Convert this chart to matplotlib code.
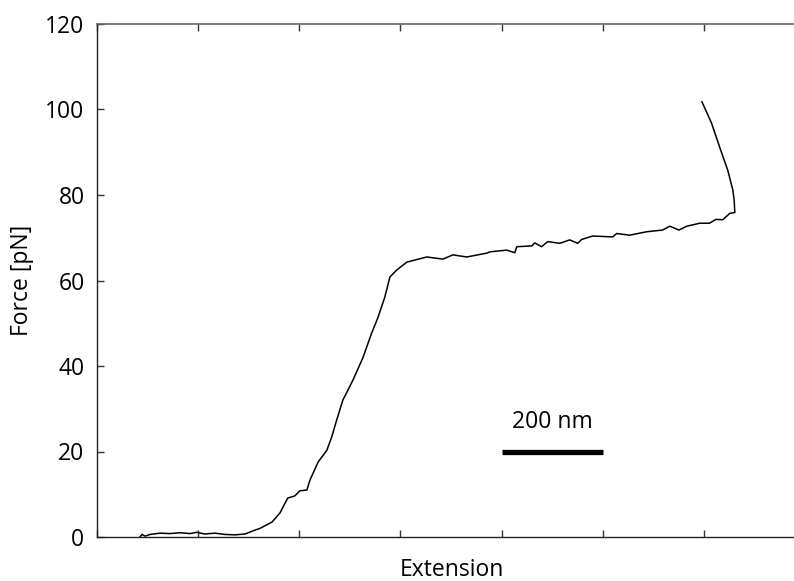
import matplotlib
matplotlib.use("Agg")
import matplotlib.pyplot as plt

plt.rcParams['font.family'] = ['Open Sans', 'DejaVu Sans']

# Extension (nm) and force (pN)
extension = [85, 89, 95, 105, 124.5, 144, 164, 184, 197.6, 213, 233, 253, 272.7, 292.5, 312,
             322, 346, 361.6, 377, 391, 401, 415, 421, 437, 454.5, 464, 474, 486, 506, 525.6,
             543, 555, 569, 579, 593, 612.6, 652, 684, 703.5, 731, 770.6,
             776.6, 810, 826, 830, 859.6, 865.5, 879, 891, 915, 934.6, 950.5, 958, 980,
             1019.6, 1027.5, 1053, 1086.6, 1118, 1132.6, 1150.5, 1166, 1191.6, 1211,
             1223.6, 1237, 1251, 1261,
             1259.7, 1257, 1247, 1231, 1215, 1196]
force = [0.0, 0.6, 0.2, 0.6, 0.9, 0.8, 1.0, 0.8, 1.1, 0.7, 0.9, 0.6, 0.5, 0.7, 1.6,
         2.0, 3.5, 5.6, 9.1, 9.6, 10.8, 11.0, 13.3, 17.5, 20.3, 23.4, 27.4, 32.0, 36.7, 41.9,
         47.7, 51.2, 56.1, 60.8, 62.5, 64.3, 65.5, 65.0, 66.0, 65.5, 66.4,
         66.7, 67.1, 66.5, 67.9, 68.1, 68.8, 67.9, 69.1, 68.7, 69.5, 68.7, 69.6, 70.4,
         70.2, 71.0, 70.6, 71.4, 71.8, 72.7, 71.8, 72.7, 73.4, 73.4,
         74.3, 74.2, 75.7, 75.9,
         78.8, 81.2, 85.8, 91.2, 96.8, 101.8]

x_ticks = [0, 200, 400, 600, 800, 1000, 1200]
y_ticks = [0, 20, 40, 60, 80, 100, 120]
scalebar_x = [800, 1000]
scalebar_y = [20, 20]
scalebar_label = "200 nm"

fig = plt.figure(figsize=(7.94, 5.81), dpi=100)
ax = fig.add_axes([97/794, 1-537/581, 1-97/794, (537-24)/581])
ax.plot(extension, force, color='black', lw=1.1)
ax.plot(scalebar_x, scalebar_y, color='black', lw=3.8, solid_capstyle='butt')
ax.text(900, 24.0, scalebar_label, ha='center', va='bottom', fontsize=16.5)

ax.set_xlim(0, 1378)
ax.set_ylim(0, 120)
ax.set_xticks(x_ticks)
ax.set_xticklabels([])
ax.set_yticks(y_ticks)
ax.tick_params(axis='both', direction='in', length=5, width=1, top=True, right=False,
               labelsize=16.5, colors='#333333', labelcolor='black', pad=9)
ax.spines['right'].set_visible(False)
for s in ['left', 'bottom']:
    ax.spines[s].set_color('#222222')
    ax.spines[s].set_linewidth(1.0)
ax.spines['top'].set_color('#666666')
ax.spines['top'].set_linewidth(1.2)
ax.set_xlabel("Extension", fontsize=16.5)
ax.xaxis.set_label_coords((452-97)/697, (537-570)/513)
ax.xaxis.label.set_va('center')
ax.set_ylabel("Force [pN]", fontsize=16.5)
ax.yaxis.set_label_coords((22-97)/697, 0.5)
ax.yaxis.label.set_va('center')

fig.savefig("out.png", dpi=100)
